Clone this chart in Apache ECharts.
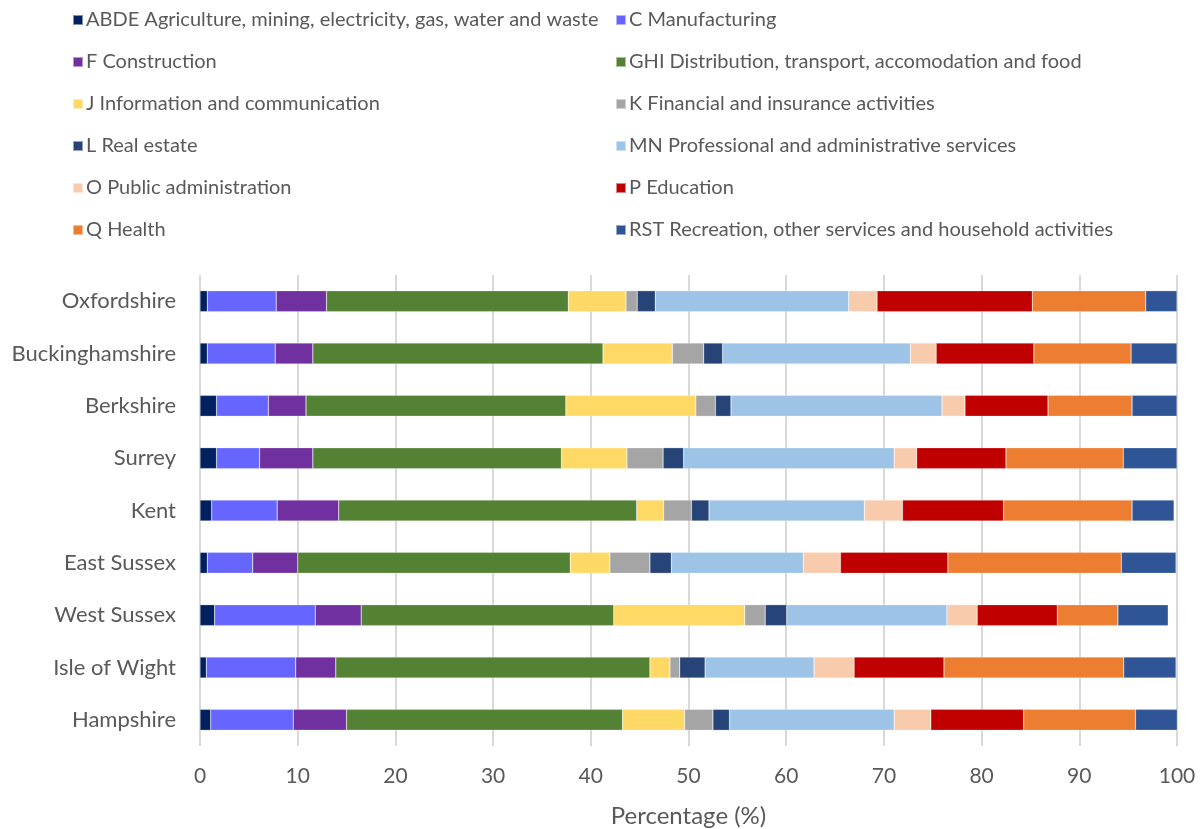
<!DOCTYPE html>
<html>
<head>
<meta charset="utf-8">
<script src="https://cdn.jsdelivr.net/npm/echarts@6/dist/echarts.min.js"></script>
<style>
  html, body { margin: 0; padding: 0; background: #fff; }
  #chart { width: 1203px; height: 829px; }
</style>
</head>
<body>
<div id="chart"></div>
<script>
var counties = ['Oxfordshire', 'Buckinghamshire', 'Berkshire', 'Surrey', 'Kent',
  'East Sussex', 'West Sussex', 'Isle of Wight', 'Hampshire'];

var sectorNames = [
  'ABDE Agriculture, mining, electricity, gas, water and waste',
  'C Manufacturing',
  'F Construction',
  'GHI Distribution, transport, accomodation and food',
  'J Information and communication',
  'K Financial and insurance activities',
  'L Real estate',
  'MN Professional and administrative services',
  'O Public administration',
  'P Education',
  'Q Health',
  'RST Recreation, other services and household activities'
];

var sectorColors = ['#002060', '#6666FF', '#7030A0', '#548235', '#FFD966', '#A5A5A5',
  '#264478', '#9DC3E6', '#F8CBAD', '#C00000', '#ED7D31', '#2F5597'];

// values per sector, in county order above
var abde = [0.75, 0.75, 1.7, 1.7, 1.2, 0.75, 1.5, 0.65, 1.1];
var manufacturing = [7.05, 6.95, 5.3, 4.4, 6.7, 4.65, 10.3, 9.15, 8.45];
var construction = [5.15, 3.85, 3.85, 5.45, 6.3, 4.6, 4.7, 4.1, 5.45];
var ghi = [24.75, 29.7, 26.6, 25.45, 30.5, 27.9, 25.85, 32.15, 28.25];
var infoComm = [5.9, 7.1, 13.3, 6.7, 2.75, 4.05, 13.4, 2.05, 6.35];
var financial = [1.15, 3.2, 2.0, 3.7, 2.85, 4.1, 2.1, 1.0, 2.9];
var realEstate = [1.85, 1.95, 1.6, 2.1, 1.8, 2.2, 2.2, 2.6, 1.7];
var professional = [19.8, 19.2, 21.6, 21.55, 15.9, 13.5, 16.4, 11.15, 16.85];
var publicAdmin = [2.9, 2.65, 2.35, 2.3, 3.9, 3.8, 3.1, 4.1, 3.75];
var education = [15.9, 10.0, 8.5, 9.15, 10.35, 11.0, 8.2, 9.2, 9.5];
var health = [11.6, 9.95, 8.6, 12.0, 13.15, 17.75, 6.2, 18.4, 11.45];
var recreation = [3.2, 4.7, 4.6, 5.5, 4.3, 5.6, 5.15, 5.35, 4.3];

var xTicks = [0, 10, 20, 30, 40, 50, 60, 70, 80, 90, 100];

var sectorValues = [abde, manufacturing, construction, ghi, infoComm, financial,
  realEstate, professional, publicAdmin, education, health, recreation];

var textColor = '#595959';
var font = 'Lato';

var chart = echarts.init(document.getElementById('chart'), null, { renderer: 'canvas' });

var series = sectorNames.map(function(name, i) {
  return {
    name: name,
    type: 'bar',
    stack: 'total',
    barWidth: 21,
    itemStyle: { color: sectorColors[i], borderColor: 'rgba(255,255,255,0.5)', borderWidth: 0.5 },
    data: sectorValues[i]
  };
});

var legendBase = {
  orient: 'vertical',
  icon: 'rect',
  itemWidth: 10,
  itemHeight: 10,
  itemGap: 22,
  textStyle: { color: textColor, fontSize: 20, fontFamily: font, padding: [0, 0, 0, -2] },
  selectedMode: false
};

chart.setOption({
  animation: false,
  textStyle: { fontFamily: font },
  legend: [
    Object.assign({}, legendBase, {
      left: 67, top: 5,
      data: [sectorNames[0], sectorNames[2], sectorNames[4], sectorNames[6], sectorNames[8], sectorNames[10]]
    }),
    Object.assign({}, legendBase, {
      left: 610, top: 5,
      data: [sectorNames[1], sectorNames[3], sectorNames[5], sectorNames[7], sectorNames[9], sectorNames[11]]
    })
  ],
  grid: { left: 200, right: 26, top: 275, bottom: 83, containLabel: false, outerBoundsMode: 'none' },
  xAxis: {
    type: 'value',
    min: xTicks[0],
    max: xTicks[xTicks.length - 1],
    interval: 10,
    name: 'Percentage (%)',
    nameLocation: 'middle',
    nameGap: 58,
    nameTextStyle: { color: textColor, fontSize: 24, fontFamily: font },
    axisLabel: { color: textColor, fontSize: 21, margin: 20, fontFamily: font },
    axisLine: { show: false },
    axisTick: { show: false },
    splitLine: { lineStyle: { color: '#d9d9d9', width: 2 } }
  },
  yAxis: {
    type: 'category',
    data: counties,
    inverse: true,
    axisLabel: { color: textColor, fontSize: 22, margin: 24, fontFamily: font },
    axisLine: { show: false },
    axisTick: { show: false }
  },
  series: series
});

window.addEventListener('resize', function() { chart.resize(); });
</script>
</body>
</html>
